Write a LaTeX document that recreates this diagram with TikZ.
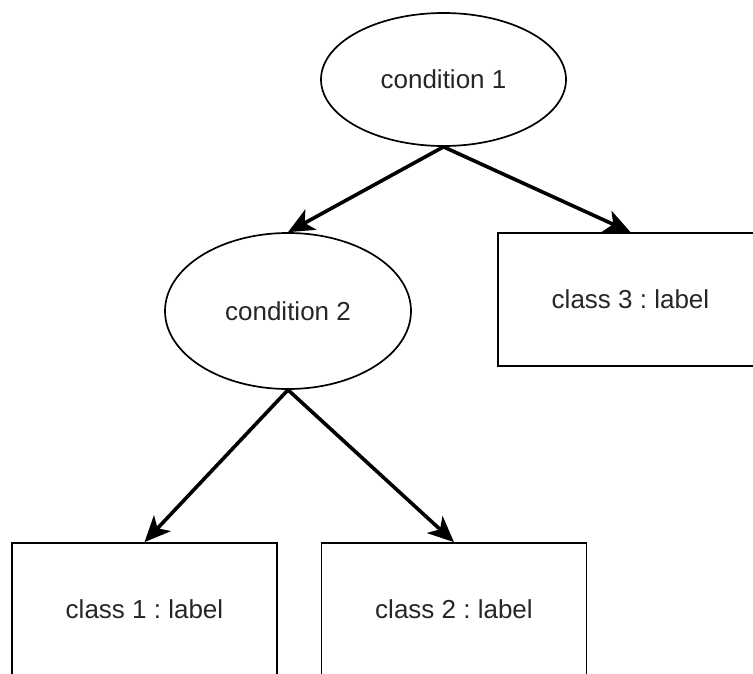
\documentclass[tikz,border=0pt]{standalone}
\usepackage{fontspec}
\setmainfont{Liberation Sans}
\frenchspacing
\usetikzlibrary{shapes.geometric,arrows.meta}
\begin{document}
\begin{tikzpicture}[x=1pt,y=-1pt,
  every node/.style={font=\fontsize{26}{30}\selectfont, inner sep=0pt, text=black!85},
  cond/.style={draw, ellipse, line width=1.7pt},
  leaf/.style={draw, rectangle, line width=1.7pt, minimum width=265pt, minimum height=133pt},
  arr/.style={line width=3.6pt, -{Stealth[length=26pt,width=23pt,inset=7pt]}}]
  \useasboundingbox (0,0) rectangle (753,673);
  \clip (0,0) rectangle (753,673);
  % decision nodes
  \node[cond, minimum width=245pt, minimum height=133pt] (c1) at (443.5,79.5) {condition 1};
  \node[cond, minimum width=246pt, minimum height=156pt] (c2) at (288,311) {condition 2};
  % leaves
  \node[leaf] (l3) at (630.5,299.5) {class 3 : label};
  \node[leaf] (l1) at (144.5,609.5) {class 1 : label};
  \node[leaf] (l2) at (454,609.5) {class 2 : label};
  % branches
  \draw[arr] (c1.south) -- (c2.north);
  \draw[arr] (c1.south) -- (l3.north);
  \draw[arr] (c2.south) -- (l1.north);
  \draw[arr] (c2.south) -- (l2.north);
\end{tikzpicture}
\end{document}
